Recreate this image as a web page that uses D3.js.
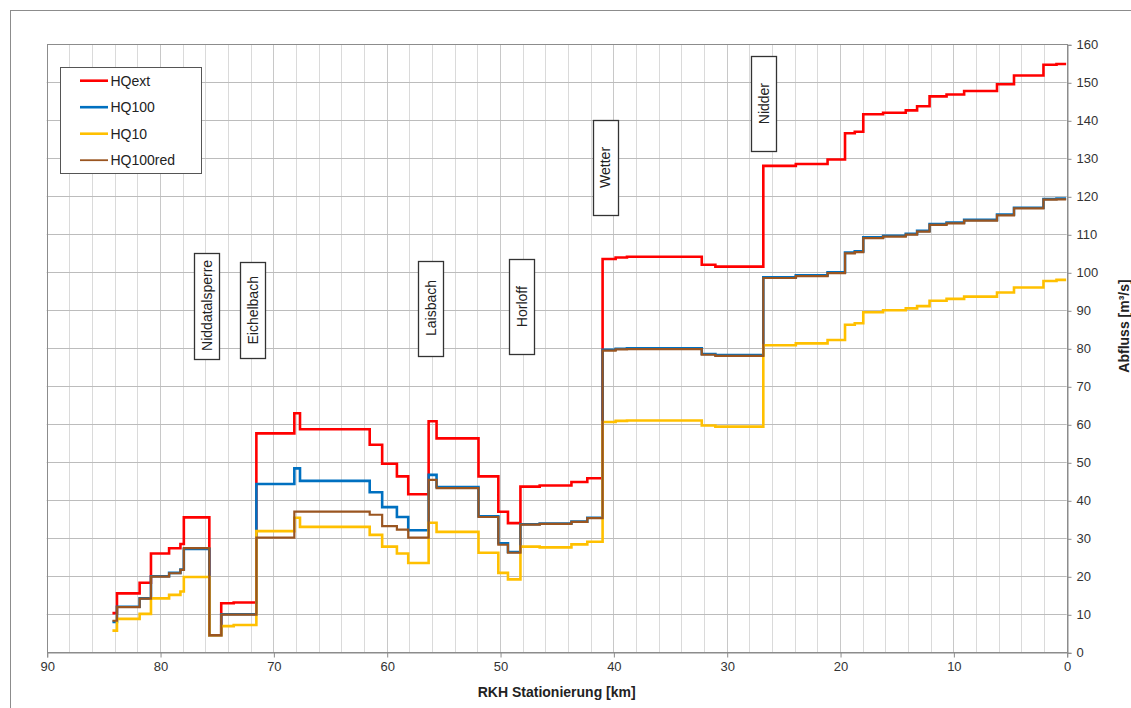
<!DOCTYPE html>
<html>
<head>
<meta charset="utf-8">
<script src="https://cdn.jsdelivr.net/npm/d3@7"></script>
<style>
  html, body { margin: 0; padding: 0; background: #fff; }
  svg { display: block; font-family: "Liberation Sans", Arial, sans-serif; }
</style>
</head>
<body>
<svg id="chart" width="1131" height="708"></svg>
<script>
// ---- data ----
const stationKm = [84.2, 83.8, 81.8, 80.8, 79.2, 78.2, 77.9, 75.65, 74.6, 73.5, 71.5, 68.15, 67.65, 61.5, 60.4, 59.1, 58.1, 56.3, 55.6, 51.9, 50.15, 49.3, 48.2, 46.5, 43.7, 42.3, 40.95, 39.8, 38.8, 32.2, 31.0, 26.77, 23.9, 21.1, 19.56, 18.7, 17.95, 16.2, 14.2, 13.2, 12.1, 10.6, 9.05, 6.15, 4.65, 2.05, 0.9, 0.05];

const hqExt = [10.3, 15.5, 18.3, 26.0, 27.4, 28.5, 35.5, 4.5, 12.9, 13.1, 57.6, 62.9, 58.7, 54.6, 49.6, 46.3, 41.6, 60.8, 56.3, 46.3, 37.0, 34.0, 43.6, 43.9, 44.8, 45.8, 103.5, 103.9, 104.1, 102.0, 101.5, 128.0, 128.5, 129.7, 136.6, 137.0, 141.6, 142.0, 142.6, 143.7, 146.3, 146.8, 147.7, 149.5, 151.8, 154.6, 154.8, 154.8];

const hq100 = [8.0, 12.0, 14.2, 20.0, 20.9, 21.8, 27.2, 4.5, 10.0, 10.0, 44.3, 48.4, 45.1, 42.1, 38.2, 35.6, 32.1, 46.7, 43.5, 35.8, 28.7, 26.4, 33.7, 33.9, 34.4, 35.4, 79.6, 79.9, 80.0, 78.5, 78.2, 98.7, 99.2, 100.0, 105.2, 105.5, 109.2, 109.6, 110.1, 110.9, 112.7, 113.1, 113.8, 115.2, 117.0, 119.3, 119.4, 119.4];

const hq10 = [5.7, 8.8, 10.1, 14.2, 15.1, 16.0, 19.8, 4.5, 6.9, 7.2, 31.9, 35.4, 33.0, 30.9, 27.8, 26.0, 23.5, 34.1, 31.7, 26.2, 20.9, 19.2, 27.8, 27.6, 28.4, 29.1, 60.6, 60.9, 61.0, 59.7, 59.4, 80.8, 81.3, 82.2, 86.2, 86.6, 89.5, 90.0, 90.5, 91.1, 92.5, 93.0, 93.6, 94.7, 96.0, 97.7, 98.0, 98.0];

const hq100red = [8.3, 11.9, 14.1, 19.9, 20.8, 21.7, 27.4, 4.5, 9.9, 9.9, 30.2, 37.0, 37.0, 36.2, 33.2, 32.3, 30.2, 45.4, 43.2, 35.6, 28.3, 26.2, 33.6, 33.8, 34.3, 35.3, 79.4, 79.7, 79.8, 78.3, 78.0, 98.5, 99.0, 99.8, 105.0, 105.3, 109.0, 109.4, 109.9, 110.7, 112.5, 112.9, 113.6, 115.0, 116.8, 119.1, 119.2, 119.2];

const seriesNames = ["HQext", "HQ100", "HQ10", "HQ100red"];
const seriesColors = ["#ff0000", "#0070c0", "#ffc000", "#9a5520"];
const seriesValues = [hqExt, hq100, hq10, hq100red];

const xTicks = [90, 80, 70, 60, 50, 40, 30, 20, 10, 0];
const yTicks = [0, 10, 20, 30, 40, 50, 60, 70, 80, 90, 100, 110, 120, 130, 140, 150, 160];

const labelNames = ["Niddatalsperre", "Eichelbach", "Laisbach", "Horloff", "Wetter", "Nidder"];
const labelKm = [75.9, 71.8, 56.1, 48.1, 40.7, 26.75];
const labelTop = [105.2, 102.6, 103.1, 103.4, 140.1, 156.9];
const labelBottom = [77.4, 77.4, 78.1, 78.5, 115.1, 131.9];

const xTitle = "RKH Stationierung [km]";
const yTitle = "Abfluss [m³/s]";

// ---- layout ----
const svg = d3.select("#chart");
const plot = { left: 46.7, right: 1066.7, top: 44.3, bottom: 652.3 };
const x = d3.scaleLinear().domain([90, 0]).range([plot.left, plot.right]);
const y = d3.scaleLinear().domain([0, 160]).range([plot.bottom, plot.top]);

// outer frame
svg.append("rect").attr("x", 10.5).attr("y", 10.5).attr("width", 1300).attr("height", 900)
  .attr("fill", "none").attr("stroke", "#8c8c8c").attr("stroke-width", 1);

// vertical grid every 2 km
const vGrid = d3.range(88, 0, -2);
svg.append("g").selectAll("line").data(vGrid).join("line")
  .attr("x1", d => Math.round(x(d)) + 0.5).attr("x2", d => Math.round(x(d)) + 0.5)
  .attr("y1", plot.top).attr("y2", plot.bottom)
  .attr("stroke", d => d % 10 === 0 ? "#c8c8c8" : "#dadada").attr("stroke-width", 1);

// horizontal grid every 10
svg.append("g").selectAll("line").data(yTicks.filter(d => d > 0 && d < 160)).join("line")
  .attr("x1", plot.left).attr("x2", plot.right)
  .attr("y1", d => Math.round(y(d)) + 0.5).attr("y2", d => Math.round(y(d)) + 0.5)
  .attr("stroke", "#bcbcbc").attr("stroke-width", 1);

// plot border
svg.append("rect")
  .attr("x", Math.round(plot.left) + 0.5).attr("y", Math.round(plot.top) + 0.5)
  .attr("width", Math.round(plot.right) - Math.round(plot.left))
  .attr("height", Math.round(plot.bottom) - Math.round(plot.top))
  .attr("fill", "none").attr("stroke", "#8c8c8c");

// axes
const xAxis = d3.axisBottom(x).tickValues(xTicks).tickSize(5).tickPadding(4).tickFormat(d3.format("d"));
const gx = svg.append("g").attr("transform", `translate(0.5,${Math.round(plot.bottom) + 0.5})`).call(xAxis);
gx.select(".domain").attr("stroke", "#8c8c8c");
gx.selectAll(".tick line").attr("stroke", "#8c8c8c");
gx.selectAll(".tick text").attr("fill", "#333").style("font-size", "13px")
  .style("font-family", '"Liberation Sans", Arial, sans-serif');

const yAxis = d3.axisRight(y).tickValues(yTicks).tickSize(4).tickPadding(5).tickFormat(d3.format("d"));
const gy = svg.append("g").attr("transform", `translate(${Math.round(plot.right) + 0.5},0.5)`).call(yAxis);
gy.select(".domain").attr("stroke", "#8c8c8c");
gy.selectAll(".tick line").attr("stroke", "#8c8c8c");
gy.selectAll(".tick text").attr("fill", "#333").style("font-size", "13px")
  .style("font-family", '"Liberation Sans", Arial, sans-serif');

// axis titles
svg.append("text").attr("x", (plot.left + plot.right) / 2).attr("y", 697)
  .attr("text-anchor", "middle").attr("font-weight", "bold").attr("font-size", 14)
  .attr("fill", "#222").text(xTitle);
svg.append("text").attr("transform", `translate(1129,326) rotate(-90)`)
  .attr("text-anchor", "middle").attr("font-weight", "bold").attr("font-size", 14)
  .attr("fill", "#222").text(yTitle);

// series lines (step)
const line = d3.line().x(d => x(d[0])).y(d => y(d[1])).curve(d3.curveStepAfter);
const widths = [2.6, 2.6, 2.6, 2.2];
seriesValues.forEach((vals, i) => {
  const pts = stationKm.map((k, j) => [k, vals[j]]);
  svg.append("path").datum(pts).attr("d", line)
    .attr("fill", "none").attr("stroke", seriesColors[i])
    .attr("stroke-width", widths[i]).attr("stroke-linejoin", "miter");
});

// tributary labels
const lab = svg.append("g");
labelNames.forEach((name, i) => {
  const cx = x(labelKm[i]);
  const yt = y(labelTop[i]), yb = y(labelBottom[i]);
  lab.append("rect").attr("x", Math.round(cx - 12.5) + 0.5).attr("y", Math.round(yt) + 0.5)
    .attr("width", 25).attr("height", Math.round(yb - yt))
    .attr("fill", "#fff").attr("stroke", "#333").attr("stroke-width", 1.3);
  lab.append("text").attr("transform", `translate(${cx + 5},${(yt + yb) / 2}) rotate(-90)`)
    .attr("text-anchor", "middle").attr("font-size", 14).attr("fill", "#222").text(name);
});

// legend
const leg = svg.append("g");
leg.append("rect").attr("x", 60.5).attr("y", 67.5).attr("width", 141).attr("height", 106)
  .attr("fill", "#fff").attr("stroke", "#555").attr("stroke-width", 1);
seriesNames.forEach((name, i) => {
  const ly = 80.7 + i * 26.5;
  leg.append("line").attr("x1", 80).attr("x2", 108).attr("y1", ly).attr("y2", ly)
    .attr("stroke", seriesColors[i]).attr("stroke-width", i === 3 ? 1.8 : 2.6);
  leg.append("text").attr("x", 110.5).attr("y", ly + 5).attr("font-size", 14)
    .attr("fill", "#222").text(name);
});
</script>
</body>
</html>
